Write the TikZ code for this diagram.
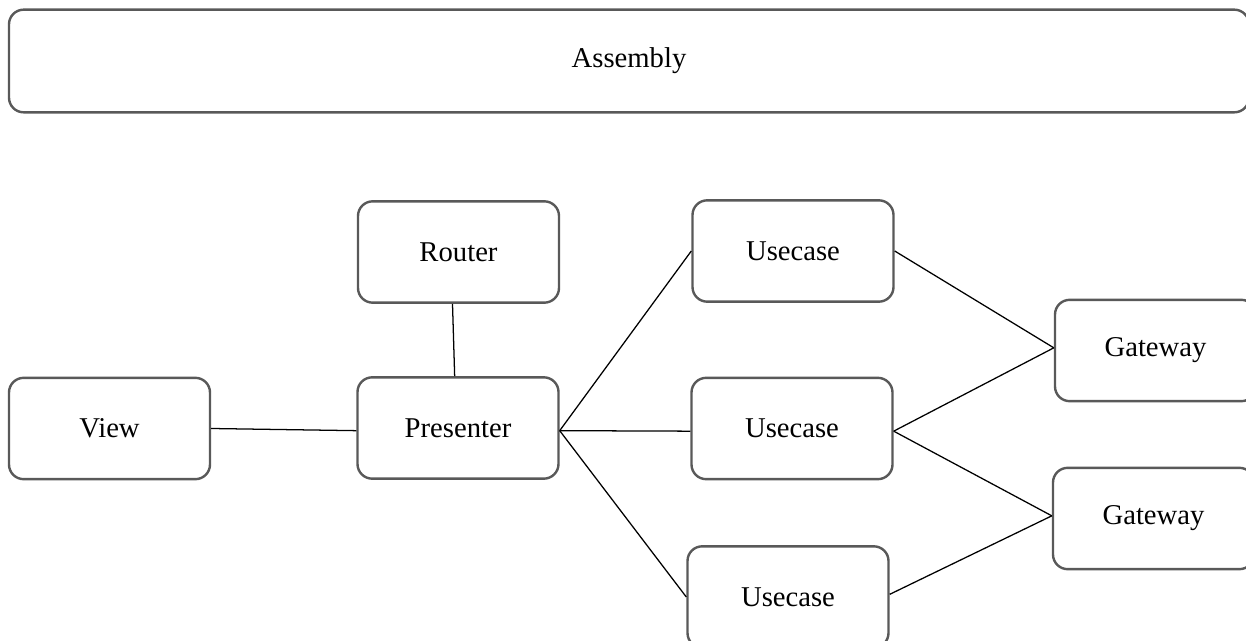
\documentclass[tikz,border=0pt]{standalone}
\usepackage{fontspec}
\setmainfont{Liberation Serif}
\begin{document}
\begin{tikzpicture}[x=0.75pt,y=-0.75pt,
  box/.style={draw=boxgray,line width=1.8pt,rounded corners=11pt,fill=white,
    inner sep=0pt,minimum width=150.75pt,minimum height=76pt,
    font=\fontsize{21.5}{24}\selectfont},
  link/.style={draw=black,line width=0.95pt}]
\definecolor{boxgray}{HTML}{595959}
\useasboundingbox (0,0) rectangle (1246,641);
\node[box,minimum width=930pt,minimum height=77pt] (assembly) at (629,61) {Assembly};
\node[box] (router) at (458.5,252) {Router};
\node[box] (presenter) at (458,428) {Presenter};
\node[box] (view) at (109.5,428.5) {View};
\node[box] (uc1) at (793,251) {Usecase};
\node[box] (uc2) at (792,428.5) {Usecase};
\node[box] (uc3) at (788,597) {Usecase};
\node[box] (gw1) at (1155.5,350.5) {Gateway};
\node[box] (gw2) at (1153.5,518.5) {Gateway};
\draw[link] (view.east) -- ([yshift=-2pt]presenter.west);
\draw[link] ([xshift=-4.5pt]router.south) -- ([xshift=-2.5pt]presenter.north);
\draw[link] ([yshift=-2pt]presenter.east) -- (uc1.west);
\draw[link] ([yshift=-2pt]presenter.east) -- ([yshift=-2pt]uc2.west);
\draw[link] ([yshift=-2pt]presenter.east) -- ([yshift=0pt]uc3.west);
\draw[link] (uc1.east) -- ([yshift=2pt]gw1.west);
\draw[link] ([yshift=-2pt]uc2.east) -- ([yshift=2pt]gw1.west);
\draw[link] ([yshift=-2pt]uc2.east) -- ([yshift=2pt]gw2.west);
\draw[link] ([yshift=2pt]uc3.east) -- ([yshift=2pt]gw2.west);
\end{tikzpicture}
\end{document}
